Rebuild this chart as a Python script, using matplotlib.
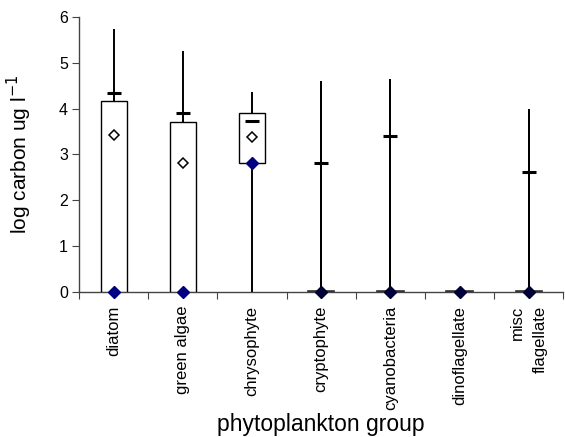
import numpy as np
import matplotlib
matplotlib.use('Agg')
import matplotlib.pyplot as plt

plt.rcParams['font.family'] = ['Liberation Sans', 'DejaVu Sans']

groups = ['diatom', 'green algae', 'chrysophyte', 'cryptophyte',
          'cyanobacteria', 'dinoflagellate', 'misc\nflagellate']
# box bottom / top, whisker max, dash marker, open diamond (mean), blue diamond
box_low = [0.0, 0.0, 2.81, 0.0, 0.0, 0.0, 0.0]
box_high = [4.16, 3.70, 3.91, 0.03, 0.03, 0.03, 0.03]
whisk_max = [5.72, 5.23, 4.34, 4.59, 4.63, 0.03, 3.97]
dash_val = [4.35, 3.90, 3.72, 2.81, 3.40, np.nan, 2.62]
mean_val = [3.43, 2.81, 3.38, np.nan, np.nan, np.nan, np.nan]
blue_val = [0.0, 0.0, 2.81, 0.0, 0.0, 0.0, 0.0]

fig = plt.figure(figsize=(5.65, 4.37), dpi=100)
ax = fig.add_axes([0.140, 0.332, 0.857, 0.629])

x = np.arange(len(groups)) + 0.5
bw = 0.38

for i, xc in enumerate(x):
    # whiskers
    ax.plot([xc, xc], [box_high[i], whisk_max[i]], color='black', lw=1.4, zorder=2)
    if box_low[i] > 0:
        ax.plot([xc, xc], [0, box_low[i]], color='black', lw=1.4, zorder=2)
    if box_high[i] - box_low[i] < 0.1:
        ax.plot([xc, xc], [0, whisk_max[i]], color='black', lw=1.4, zorder=2)
        ax.add_patch(plt.Rectangle((xc - bw / 2, box_low[i]), bw, 0.03,
                                   facecolor='#555555', edgecolor='#333333',
                                   lw=1.2, zorder=3))
    else:
        ax.add_patch(plt.Rectangle((xc - bw / 2, box_low[i]), bw,
                                   box_high[i] - box_low[i],
                                   facecolor='white', edgecolor='black',
                                   lw=1.0, zorder=3))

ax.plot(x, dash_val, linestyle='none', marker='_', markersize=10,
        markeredgewidth=2.2, color='black', zorder=4)
ax.plot(x, mean_val, linestyle='none', marker='D', markersize=5.5,
        markerfacecolor='white', markeredgecolor='black',
        markeredgewidth=1.1, zorder=5)
for i, xc in enumerate(x):
    ax.plot(xc, blue_val[i], linestyle='none', marker='D', markersize=6,
            markerfacecolor='#000080' if i < 3 else '#00003a',
            markeredgecolor='#000080' if i < 3 else '#000030',
            zorder=6, clip_on=False)

ax.set_xlim(0, len(groups))
ax.set_ylim(0, 6)
ax.set_yticks(range(0, 7))
ax.set_xticks(range(0, len(groups) + 1))
ax.set_xticklabels([])
ax.set_xticks(x, minor=True)
ax.set_xticklabels(groups, minor=True, rotation=90, fontsize=12,
                   va='top', ha='center', ma='right', linespacing=1.6)
ax.tick_params(axis='x', which='minor', length=0, pad=10)
ax.tick_params(axis='x', which='major', direction='out', length=5,
               color='#444444')
ax.tick_params(axis='y', direction='out', length=5, labelsize=11.5,
               color='#444444', pad=3)

for s in ['top', 'right']:
    ax.spines[s].set_visible(False)
for s in ['left', 'bottom']:
    ax.spines[s].set_color('#444444')
    ax.spines[s].set_linewidth(1.0)

ax.set_ylabel('log carbon ug l$^{-1}$', fontsize=15, labelpad=18)
ax.set_xlabel('phytoplankton group', fontsize=16.5)
ax.xaxis.set_label_coords(0.5, -0.44)

fig.savefig('out.png', dpi=100)
